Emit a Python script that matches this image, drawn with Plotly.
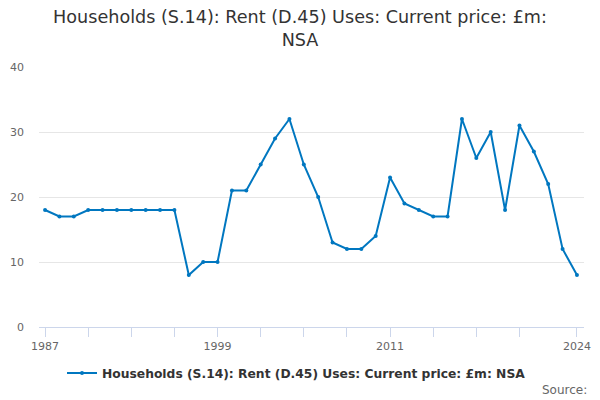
import plotly.graph_objects as go

years = list(range(1987, 2025))
values = [18, 17, 17, 18, 18, 18, 18, 18, 18, 18,
          8, 10, 10, 21, 21, 25, 29, 32, 25, 20,
          13, 12, 12, 14, 23, 19, 18, 17, 17, 32,
          26, 30, 18, 31, 27, 22, 12, 8]
tick_years = list(range(1987, 2021, 3)) + [2024]
labelled_years = [1987, 1999, 2011, 2024]
tick_text = [str(y) if y in labelled_years else "" for y in tick_years]
y_ticks = [0, 10, 20, 30, 40]
series_name = "Households (S.14): Rent (D.45) Uses: Current price: £m: NSA"
title_text = "Households (S.14): Rent (D.45) Uses: Current price: £m:<br>NSA"

color = "#0077c0"
font = "DejaVu Sans, Verdana, sans-serif"

fig = go.Figure()
fig.add_trace(go.Scatter(
    x=years, y=values, mode="lines+markers", name=series_name,
    line=dict(color=color, width=2),
    marker=dict(color=color, size=4),
))

fig.update_layout(
    width=600, height=400,
    margin=dict(l=39, r=16, t=67, b=73, autoexpand=False),
    paper_bgcolor="white", plot_bgcolor="white",
    font=dict(family=font, color="#666666", size=11),
    title=dict(text=title_text, x=0.5, xanchor="center", xref="container",
               y=0.9425, yanchor="middle", yref="container",
               font=dict(family=font, size=17.6, color="#333333")),
    showlegend=True,
    legend=dict(orientation="h", x=0.4725, xanchor="center", y=-0.177, yanchor="middle",
                itemwidth=30,
                font=dict(family=font, size=12.3, color="#333333", weight="bold")),
    xaxis=dict(range=[1986.58, 2024.49], tickvals=tick_years, ticktext=tick_text,
               showgrid=False, zeroline=False, showline=True, linecolor="#ccd6eb",
               linewidth=1, ticks="outside", ticklen=9, tickcolor="#ccd6eb",
               tickfont=dict(size=11, color="#666666")),
    yaxis=dict(range=[0, 40], tickvals=y_ticks, showgrid=True, gridcolor="#e6e6e6",
               zeroline=False, showline=False, ticks="", ticklabelstandoff=14,
               tickfont=dict(size=11, color="#666666")),
    annotations=[dict(text="Source:", xref="paper", yref="paper", x=1.009, y=-0.242,
                      xanchor="right", yanchor="middle", showarrow=False,
                      font=dict(family=font, size=12, color="#666666"))],
)

fig.write_html("out.html", config={"displayModeBar": False},
               post_script="document.body.style.margin='0';")
